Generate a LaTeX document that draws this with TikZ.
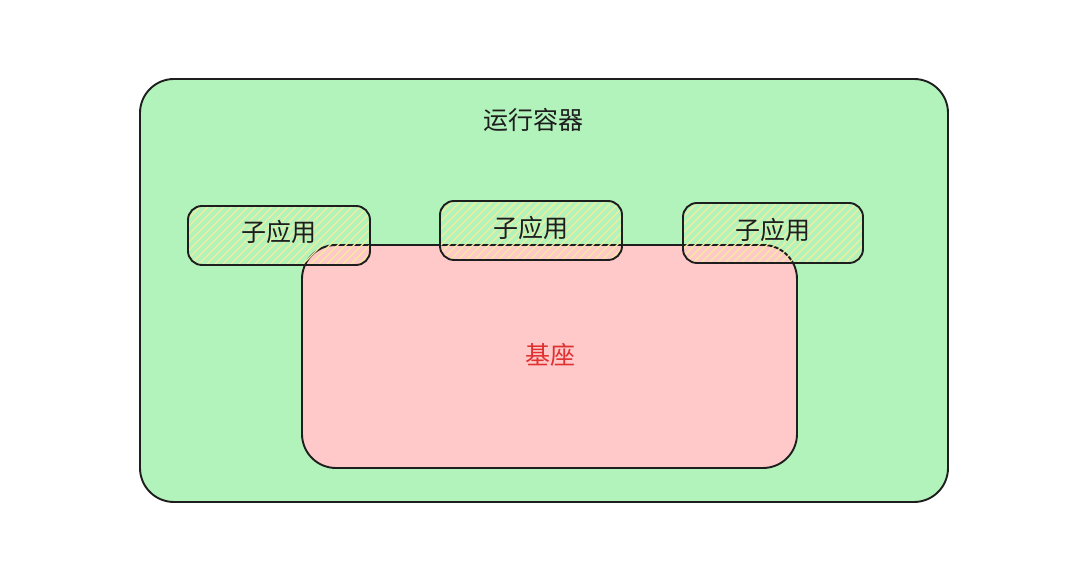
\documentclass[tikz,border=0pt]{standalone}
\usepackage{fontspec}
\setmainfont{Noto Sans CJK SC}
\begin{document}
\begin{tikzpicture}[x=1pt,y=1pt,
  ink/.style={draw=strokec, line width=1.9pt, line join=round},
  container/.style={ink, fill=greenf, rounded corners=34pt, inner sep=0pt},
  basebox/.style={ink, fill=redf, rounded corners=34pt, inner sep=0pt},
  subapp/.style={ink, rounded corners=14pt, inner sep=0pt, minimum width=182pt, minimum height=59pt,
    path picture={\foreach \i in {-70,-62,...,200}
      \draw[draw=hatchc, line width=1.2pt] ([xshift=\i pt]path picture bounding box.south west) -- ++(72pt,72pt);}},
  lbl/.style={font=\fontsize{25}{27}\selectfont, inner sep=0pt, text=strokec}
]
\definecolor{strokec}{HTML}{1E1E1E}
\definecolor{greenf}{HTML}{B2F2BB}
\definecolor{redf}{HTML}{FFC9C9}
\definecolor{hatchc}{HTML}{F3EC9C}
\definecolor{redtext}{HTML}{E03131}
\useasboundingbox[fill=white] (0,0) rectangle (1080,567);
\node[container, minimum width=808pt, minimum height=423pt] (outer) at (544,276.5) {};
\node[lbl] (title) at (533,447) {运行容器};
\node[basebox, minimum width=495pt, minimum height=223pt] (base) at (549.5,210.5) {};
\node[lbl, text=redtext] (baselbl) at (550,212) {基座};
\node[subapp] (s1) at (279,331.5) {};
\node[subapp] (s2) at (531,336.5) {};
\node[subapp, minimum width=180pt, minimum height=60pt] (s3) at (773,334) {};
\node[lbl] (s1lbl) at (279,335) {子应用};
\node[lbl] (s2lbl) at (531,339) {子应用};
\node[lbl] (s3lbl) at (773,337) {子应用};
\end{tikzpicture}
\end{document}
